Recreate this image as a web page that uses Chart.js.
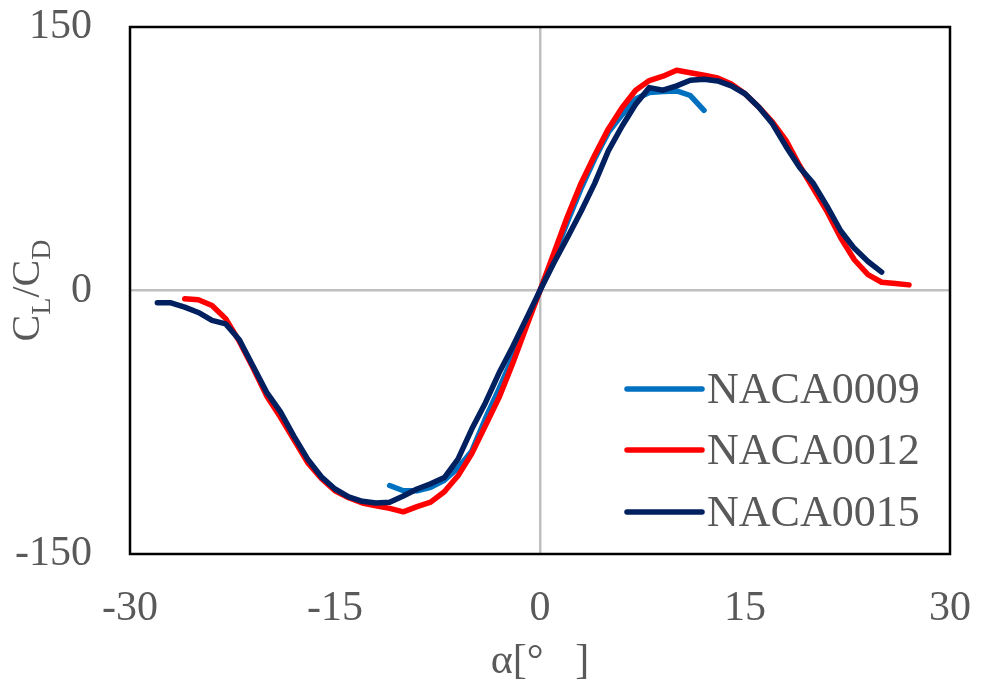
<!DOCTYPE html>
<html>
<head>
<meta charset="utf-8">
<script src="https://cdn.jsdelivr.net/npm/chart.js@4.4.1/dist/chart.umd.min.js"></script>
<style>
  html, body { margin: 0; padding: 0; background: #fff; }
  #wrap { width: 981px; height: 686px; }
</style>
</head>
<body>
<div id="wrap"><canvas id="c" width="981" height="686"></canvas></div>
<script>
// angle of attack [deg] and lift/drag ratio for each profile
const alpha0009 = [-11, -10, -9, -8, -7, -6, -5, -4, -3, -2, -1, 0, 1, 2, 3, 4, 5, 6, 7, 8, 9, 10, 11, 12];
const ld0009 = [-111, -114, -114, -112, -108, -101, -91.5, -73, -56, -38, -19, 0, 19, 39, 58, 75, 90, 100, 109, 112.7, 113.3, 113.6, 111, 102.6];

const alpha0012 = [-26, -25, -24, -23, -22, -21, -20, -19, -18, -17, -16, -15, -14, -13, -12, -11, -10, -9, -8, -7, -6, -5, -4, -3, -2, -1,
  0, 1, 2, 3, 4, 5, 6, 7, 8, 9, 10, 11, 12, 13, 14, 15, 16, 17, 18, 19, 20, 21, 22, 23, 24, 25, 26, 27];
const ld0012 = [-4.7, -5.3, -8.5, -16, -29, -44, -60, -72, -85, -98, -107, -114, -118, -121, -122.5, -124, -126, -123, -120.5, -114.6, -105.5, -93, -77, -61, -41.5, -20.7,
  0, 21, 42, 61, 77, 92, 104, 114, 119.5, 122, 125.4, 124, 122.5, 121, 117.5, 112, 104.5, 96, 85.5, 71, 58, 45, 30, 17.5, 9, 4.7, 4, 3.2];

const alpha0015 = [-28, -27, -26, -25, -24, -23, -22, -21, -20, -19, -18, -17, -16, -15, -14, -13, -12, -11, -10, -9, -8, -7, -6, -5, -4, -3, -2, -1,
  0, 1, 2, 3, 4, 5, 6, 7, 8, 9, 10, 11, 12, 13, 14, 15, 16, 17, 18, 19, 20, 21, 22, 23, 24, 25];
const ld0015 = [-7, -7, -9.5, -12.5, -17, -19, -28, -43, -58, -69, -83, -96, -106, -113, -117.5, -120, -121, -120.5, -117, -113, -110, -106.5, -96, -79, -64, -47, -32, -16,
  0, 15.5, 30, 45, 61, 79.5, 93.5, 106, 115.5, 114, 116.5, 119.7, 120.3, 119.3, 116.5, 112, 104.5, 95, 82, 70, 61, 48, 34, 24, 16.5, 10.5];

const seriesNames = ['NACA0009', 'NACA0012', 'NACA0015'];
const seriesColors = ['#0070c0', '#ff0000', '#002060'];

const xTicks = [-30, -15, 0, 15, 30];
const yTicks = [-150, 0, 150];

const FONT = "'Times New Roman', 'Liberation Serif', serif";
const TEXT = '#595959';

const toPoints = (xs, ys) => xs.map((x, i) => ({ x, y: ys[i] }));

// box around the plot, inside legend and the two axis titles
const decorations = {
  id: 'decorations',
  afterDraw(chart) {
    const { ctx, chartArea: a } = chart;
    ctx.save();

    ctx.strokeStyle = '#000';
    ctx.lineWidth = 2.5;
    ctx.strokeRect(a.left, a.top, a.right - a.left, a.bottom - a.top);

    // legend
    ctx.lineCap = 'round';
    ctx.lineWidth = 5.5;
    ctx.font = `44px ${FONT}`;
    ctx.fillStyle = TEXT;
    ctx.textBaseline = 'alphabetic';
    ctx.textAlign = 'left';
    const rows = [362, 423, 485];
    chart.data.datasets.forEach((ds, i) => {
      const y = a.top + rows[i];
      ctx.strokeStyle = ds.borderColor;
      ctx.beginPath();
      ctx.moveTo(a.right - 323, y);
      ctx.lineTo(a.right - 248, y);
      ctx.stroke();
      ctx.fillText(ds.label, a.right - 243, y + 14);
    });

    // x title
    ctx.font = `42px ${FONT}`;
    ctx.textAlign = 'center';
    ctx.fillText('α[°   ]', (a.left + a.right) / 2, 673);

    // y title: C_L/C_D with subscripts
    ctx.translate(39, (a.top + a.bottom) / 2);
    ctx.rotate(-Math.PI / 2);
    const big = `40px ${FONT}`;
    const small = `28px ${FONT}`;
    const parts = [['C', big, 0], ['L', small, 11], ['/C', big, 0], ['D', small, 11]];
    let total = 0;
    parts.forEach(([t, f]) => { ctx.font = f; total += ctx.measureText(t).width; });
    let x = -total / 2;
    ctx.textAlign = 'left';
    parts.forEach(([t, f, dy]) => {
      ctx.font = f;
      ctx.fillText(t, x, dy);
      x += ctx.measureText(t).width;
    });
    ctx.restore();
  }
};

const zeroLine = (ctx) => (ctx.tick && ctx.tick.value === 0 ? '#bfbfbf' : 'rgba(0,0,0,0)');

new Chart(document.getElementById('c'), {
  type: 'line',
  data: {
    datasets: [
      { label: seriesNames[0], data: toPoints(alpha0009, ld0009), borderColor: seriesColors[0], order: 3 },
      { label: seriesNames[1], data: toPoints(alpha0012, ld0012), borderColor: seriesColors[1], order: 2 },
      { label: seriesNames[2], data: toPoints(alpha0015, ld0015), borderColor: seriesColors[2], order: 1 }
    ]
  },
  options: {
    responsive: false,
    animation: false,
    devicePixelRatio: 1,
    layout: { padding: { top: 27, right: 31, left: 0, bottom: 0 } },
    elements: {
      line: { borderWidth: 5.5, tension: 0, borderCapStyle: 'round', borderJoinStyle: 'round', fill: false },
      point: { radius: 0, hoverRadius: 0 }
    },
    plugins: {
      legend: { display: false },
      tooltip: { enabled: false }
    },
    scales: {
      x: {
        type: 'linear',
        min: -30,
        max: 30,
        afterFit: (s) => { s.height = 132; s.paddingLeft = 0; s.paddingRight = 0; },
        afterBuildTicks: (s) => { s.ticks = xTicks.map((v) => ({ value: v })); },
        grid: { color: zeroLine, lineWidth: 2.5, drawTicks: false },
        border: { display: false },
        ticks: { color: TEXT, font: { family: FONT, size: 42 }, padding: 30, maxRotation: 0 }
      },
      y: {
        type: 'linear',
        min: -150,
        max: 150,
        afterFit: (s) => { s.width = 130; s.paddingTop = 0; s.paddingBottom = 0; },
        afterBuildTicks: (s) => { s.ticks = yTicks.map((v) => ({ value: v })); },
        grid: { color: zeroLine, lineWidth: 2.5, drawTicks: false },
        border: { display: false },
        ticks: { color: TEXT, font: { family: FONT, size: 42 }, padding: 38 }
      }
    }
  },
  plugins: [decorations]
});
</script>
</body>
</html>
